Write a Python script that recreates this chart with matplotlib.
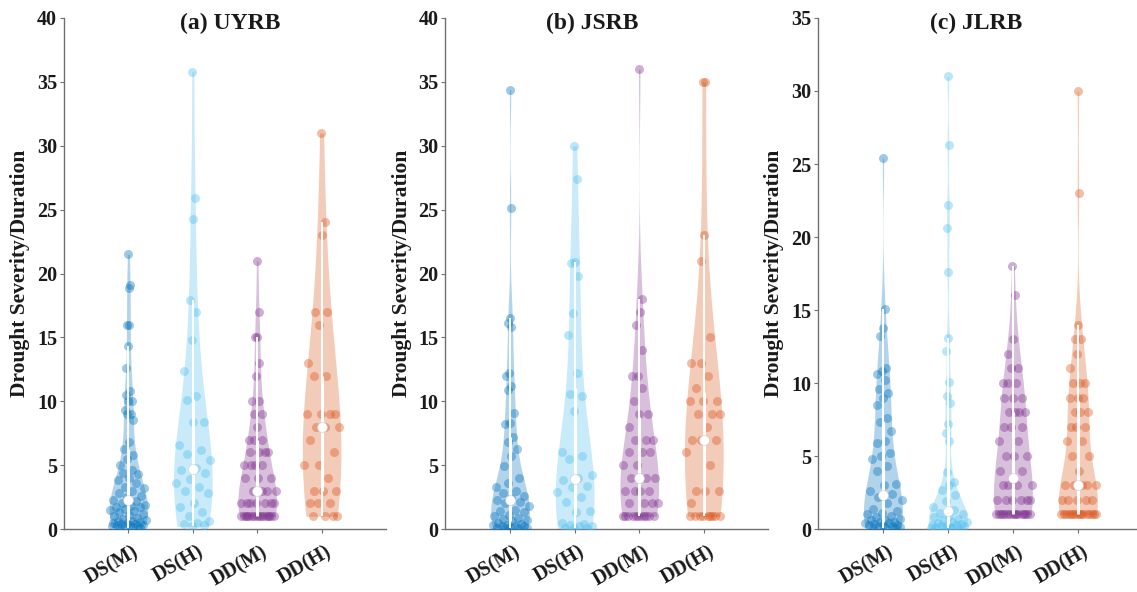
import numpy as np
import matplotlib
matplotlib.use('Agg')
import matplotlib.pyplot as plt
from matplotlib.transforms import ScaledTranslation, blended_transform_factory

# Times-like bold text everywhere
plt.rcParams['font.family'] = ['Liberation Serif', 'DejaVu Serif']
plt.rcParams['font.weight'] = 'bold'
plt.rcParams['axes.labelweight'] = 'bold'

# categories and colours of the four violins
groups = ['DS(M)', 'DS(H)', 'DD(M)', 'DD(H)']
colors = ['#0072BD', '#4DBEEE', '#7E2F8E', '#D95319']

# (a) UYRB
uyrb_ds_m = [21.5, 19.1, 18.9, 16.0, 16.0, 14.3, 12.6, 10.8, 10.5, 10.0, 10.0, 9.3,
             9.0, 9.0, 8.5, 6.8, 6.3, 5.8, 5.5, 5.0, 4.6, 4.4, 4.3, 4.0, 3.8, 3.6,
             3.3, 3.2, 3.0, 2.8, 2.6, 2.5, 2.3, 2.2,
             2.0, 1.9, 1.8, 1.75, 1.7, 1.6, 1.5, 1.4, 1.3, 1.2, 1.1, 1.0, 0.9,
             0.8, 0.7, 0.6, 0.6, 0.55, 0.5, 0.45, 0.4, 0.4, 0.35, 0.3, 0.3, 0.25,
             0.2, 0.2, 0.15, 0.1, 0.1]
uyrb_ds_h = [35.8, 25.9, 24.3, 17.9, 17.0, 14.8, 12.4, 10.4, 10.1, 8.4, 8.4, 6.6,
             6.2, 5.9, 5.4, 4.8, 4.6, 4.4, 3.9, 3.6, 3.3, 3.0, 2.8, 2.0, 1.7, 1.3,
             1.0, 0.6, 0.5, 0.4, 0.3, 0.2]
uyrb_dd_m = [21, 17, 15, 15, 13, 12, 10, 10, 9, 9, 8, 7, 7, 7, 6, 6, 6, 6,
             5, 5, 5, 5, 4, 4, 4, 3, 3, 3, 3, 2, 2, 2, 2, 2, 2, 2,
             1, 1, 1, 1, 1, 1, 1, 1, 1, 1, 1, 1, 1, 1, 1, 1]
uyrb_dd_h = [31, 24, 23, 17, 17, 16, 13, 12, 12, 9, 9, 9, 9, 8, 8, 8,
             7, 6, 5, 5, 4, 3, 3, 3, 2, 2, 2, 1, 1, 1, 1]

# (b) JSRB
jsrb_ds_m = [34.4, 25.1, 16.5, 16.1, 15.8, 12.2, 12.0, 11.2, 10.9, 9.1, 8.3, 8.2,
             7.2, 6.8, 6.3, 5.7, 4.9, 4.0, 3.6, 3.3, 3.0, 2.8, 2.6, 2.4, 2.3,
             2.1, 2.0, 1.8, 1.5, 1.4, 1.3, 1.1, 1.0, 0.9, 0.8, 0.7, 0.6, 0.5, 0.4,
             0.3, 0.3, 0.25, 0.2, 0.2, 0.15, 0.1, 0.1, 0.1, 0.05]
jsrb_ds_h = [30.0, 27.4, 20.9, 20.8, 19.8, 16.9, 15.2, 12.2, 10.6, 10.4, 9.2, 6.0,
             5.7, 5.5, 4.2, 4.0, 3.8, 3.4, 3.3, 2.9, 2.5, 2.1, 1.4, 1.3, 0.5, 0.4,
             0.3, 0.2, 0.2, 0.1, 0.1, 0.05]
jsrb_dd_m = [36, 18, 17, 16, 14, 12, 12, 11, 10, 9, 9, 8, 7, 7, 7, 6, 6, 6, 5, 5,
             4, 4, 4, 3, 3, 3, 3, 2, 2, 2, 2,
             1, 1, 1, 1, 1, 1, 1, 1, 1, 1, 1]
jsrb_dd_h = [35, 35, 23, 21, 15, 13, 13, 12, 11, 10, 10, 10, 9, 9, 9, 8, 7, 7, 7,
             6, 5, 3, 3, 3, 2, 1, 1, 1, 1, 1, 1, 1, 1, 1]

# (c) JLRB
jlrb_ds_m = [25.4, 15.1, 13.8, 13.2, 11.0, 10.8, 10.6, 10.2, 9.6, 9.3, 9.0, 8.5,
             7.6, 7.3, 6.7, 6.0, 5.9, 5.2, 5.0, 4.8, 4.3, 4.0, 3.1, 3.0, 2.6, 2.4,
             2.2, 2.0, 1.8, 1.4, 1.2, 1.1, 1.0, 0.9, 0.8, 0.7, 0.6, 0.6, 0.5,
             0.45, 0.4, 0.4, 0.35, 0.3, 0.3, 0.25, 0.2, 0.2, 0.15, 0.1, 0.1, 0.05]
jlrb_ds_h = [31.0, 26.3, 22.2, 20.6, 17.6, 13.1, 12.2, 10.1, 9.1, 8.6, 7.2, 6.6,
             6.0, 3.9, 3.2, 3.0, 2.7, 2.3, 1.9, 1.5, 1.3, 1.1, 1.0, 0.9, 0.8,
             0.7, 0.6, 0.5, 0.5, 0.4, 0.35, 0.3, 0.3, 0.25, 0.2, 0.2, 0.15, 0.15,
             0.1, 0.1, 0.05, 0.05]
jlrb_dd_m = [18, 16, 13, 12, 11, 11, 10, 10, 10, 9, 9, 9, 8, 8, 8, 8, 7, 7, 7,
             6, 6, 5, 5, 5, 4, 4, 3, 3, 3, 3, 2, 2, 2, 2, 2, 2,
             1, 1, 1, 1, 1, 1, 1, 1, 1, 1, 1, 1, 1, 1, 1, 1]
jlrb_dd_h = [30, 23, 14, 13, 13, 12, 11, 10, 10, 10, 9, 9, 9, 8, 8, 8, 7, 7, 7,
             6, 6, 5, 5, 4, 3, 3, 3, 3, 3, 2, 2, 2, 2, 2,
             1, 1, 1, 1, 1, 1, 1, 1, 1, 1, 1, 1, 1, 1, 1, 1]

basins = [
    [uyrb_ds_m, uyrb_ds_h, uyrb_dd_m, uyrb_dd_h],
    [jsrb_ds_m, jsrb_ds_h, jsrb_dd_m, jsrb_dd_h],
    [jlrb_ds_m, jlrb_ds_h, jlrb_dd_m, jlrb_dd_h],
]
titles = ['(a) UYRB', '(b) JSRB', '(c) JLRB']
y_tops = [40, 40, 35]


def bandwidth(x):
    '''normal reference bandwidth from the median absolute deviation, widened'''
    sig = np.median(np.abs(x - np.median(x))) / 0.6745
    if sig <= 0:
        sig = np.std(x)
    return 1.6 * sig * (4.0 / (3.0 * len(x))) ** 0.2


def violin(ax, pos, values, color, width=0.3):
    '''one violin with jittered points, whiskers and a median dot'''
    data = np.asarray(values, dtype=float)
    bw = bandwidth(data)
    grid = np.linspace(data.min(), data.max(), 500)
    dens = np.exp(-0.5 * ((grid[:, None] - data[None, :]) / bw) ** 2).sum(axis=1)
    dens = dens / dens.max() * width

    ax.fill_betweenx(grid, pos - dens, pos + dens, color=color, alpha=0.3, lw=0, zorder=2)

    # spread the points inside the outline
    half = np.interp(data, grid, dens)
    k = np.arange(len(data))
    jitter = 2 * ((k * 0.6180339887 + 0.31) % 1.0) - 1
    ax.scatter(pos + jitter * half, data, s=42, color=color, alpha=0.38, lw=0, zorder=3)

    q1, med, q3 = np.percentile(data, [25, 50, 75])
    iqr = q3 - q1
    lo = data[data >= q1 - 1.5 * iqr].min()
    hi = data[data <= q3 + 1.5 * iqr].max()
    ax.plot([pos, pos], [lo, hi], color='white', lw=1.4, zorder=4, solid_capstyle='butt')
    ax.plot([pos, pos], [q1, q3], color='white', lw=2.2, zorder=4, solid_capstyle='butt')
    ax.scatter([pos], [med], s=50, color='white', edgecolor='#d0d0d0', lw=0.4, zorder=5)


fig = plt.figure(figsize=(11.37, 5.92), dpi=100)

# axes boxes in figure fractions, and where each title sits across its box
boxes = [[0.0563, 0.1064, 0.2832, 0.8632],
         [0.3918, 0.1064, 0.2840, 0.8632],
         [0.7194, 0.1064, 0.2858, 0.8632]]
title_x = [0.516, 0.455, 0.488]

# rotated group names hang a little right of and below each tick
label_offset = ScaledTranslation(4 / 100, -13 / 100, fig.dpi_scale_trans)

for i in range(3):
    ax = fig.add_axes(boxes[i])
    for j in range(4):
        violin(ax, j + 1, basins[i][j], colors[j])

    ax.set_xlim(0, 5)
    ax.set_ylim(0, y_tops[i])
    ax.set_yticks(np.arange(0, y_tops[i] + 1, 5))
    ax.set_xticks([1, 2, 3, 4])
    ax.set_xticklabels([])
    trans = blended_transform_factory(ax.transData, ax.transAxes) + label_offset
    for j, name in enumerate(groups):
        ax.text(j + 1, 0, name, transform=trans, rotation=30, ha='right', va='top',
                rotation_mode='anchor', fontsize=14.5, fontweight='bold',
                color='#1a1a1a', clip_on=False)
    for lbl in ax.get_yticklabels():
        lbl.set_fontweight('bold')

    for side in ['top', 'right']:
        ax.spines[side].set_visible(False)
    for side in ['left', 'bottom']:
        ax.spines[side].set_color('#707070')
        ax.spines[side].set_linewidth(1.0)
    ax.tick_params(axis='both', direction='out', length=3, width=0.8,
                   color='#707070', labelsize=14.5, labelcolor='#1a1a1a')
    ax.tick_params(axis='y', pad=2)

    ax.set_ylabel('Drought Severity/Duration', fontsize=15.5, fontweight='bold',
                  color='#1a1a1a')
    ax.yaxis.set_label_coords(-0.105, 0.5)
    ax.text(title_x[i], 0.99, titles[i], transform=ax.transAxes, ha='center',
            va='center', fontsize=17, fontweight='bold', color='#1a1a1a')

plt.savefig('out.png', dpi=100)
